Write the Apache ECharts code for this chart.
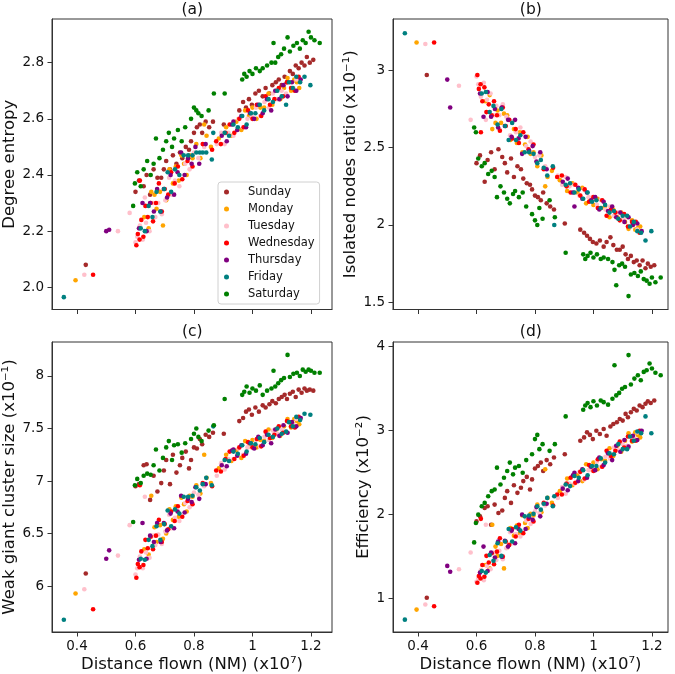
<!DOCTYPE html>
<html>
<head>
<meta charset="utf-8">
<script src="https://cdn.jsdelivr.net/npm/echarts@6/dist/echarts.min.js"></script>
<style>
  html, body { margin: 0; padding: 0; background: #fff; }
  #chart { width: 675px; height: 674px; }
</style>
</head>
<body>
<div id="chart"></div>
<script>
// weekdays and their marker colours
const days = ['Sunday', 'Monday', 'Tuesday', 'Wednesday', 'Thursday', 'Friday', 'Saturday'];
const dayColors = ['#a52a2a', '#ffa500', '#ffc0cb', '#ff0000', '#800080', '#008080', '#008000'];

// one row per day: [distance (x10^7 NM), degree entropy, isolated ratio (x10^-1), weak giant cluster (x10^-1), efficiency (x10^-2)]
const sunday = [
    [0.430, 2.08, 2.97, 6.12, 1.01],
    [0.600, 2.34, 2.40, 6.95, 1.92], [0.612, 2.38, 2.45, 6.97, 1.98], [0.628, 2.36, 2.28, 7.15, 2.08],
    [0.638, 2.40, 2.42, 7.16, 2.10], [0.650, 2.33, 2.47, 6.82, 1.88], [0.662, 2.42, 2.36, 7.05, 2.12],
    [0.675, 2.39, 2.49, 6.90, 2.02], [0.688, 2.39, 2.44, 6.98, 2.05], [0.697, 2.42, 2.40, 7.10, 2.20],
    [0.705, 2.45, 2.34, 7.20, 2.28], [0.718, 2.42, 2.43, 6.97, 2.14], [0.728, 2.47, 2.31, 7.25, 2.35],
    [0.740, 2.44, 2.38, 7.08, 2.26], [0.752, 2.48, 2.36, 7.15, 2.32], [0.760, 2.46, 2.30, 7.22, 2.40],
    [0.772, 2.50, 2.27, 7.28, 2.45], [0.783, 2.49, 2.26, 7.12, 2.30], [0.790, 2.52, 2.23, 7.20, 2.42],
    [0.800, 2.55, 2.19, 7.32, 2.55], [0.810, 2.57, 2.18, 7.31, 2.58], [0.820, 2.58, 2.16, 7.40, 2.62],
    [0.828, 2.55, 2.21, 7.35, 2.52], [0.840, 2.59, 2.14, 7.44, 2.65], [0.852, 2.57, 2.12, 7.42, 2.60],
    [0.865, 2.59, 2.10, 7.46, 2.68], [0.902, 2.58, 2.01, 7.45, 2.72],
    [0.955, 2.63, 1.97, 7.57, 2.88], [0.968, 2.66, 1.95, 7.60, 2.92], [0.978, 2.64, 1.93, 7.66, 2.98],
    [0.988, 2.67, 1.91, 7.68, 2.95], [0.998, 2.65, 1.89, 7.63, 2.90], [1.010, 2.69, 1.88, 7.70, 3.00],
    [1.022, 2.70, 1.90, 7.66, 2.96], [1.035, 2.68, 1.86, 7.72, 3.02], [1.045, 2.71, 1.89, 7.70, 2.94],
    [1.058, 2.69, 1.92, 7.73, 3.05], [1.068, 2.72, 1.87, 7.76, 3.08], [1.080, 2.73, 1.84, 7.74, 3.10],
    [1.090, 2.74, 1.84, 7.78, 3.14], [1.100, 2.72, 1.86, 7.80, 3.12], [1.110, 2.75, 1.81, 7.82, 3.20],
    [1.118, 2.73, 1.78, 7.78, 3.16], [1.128, 2.77, 1.80, 7.83, 3.22], [1.138, 2.76, 1.76, 7.85, 3.26],
    [1.148, 2.79, 1.77, 7.80, 3.24], [1.158, 2.78, 1.74, 7.87, 3.30], [1.168, 2.80, 1.77, 7.84, 3.28],
    [1.178, 2.79, 1.72, 7.88, 3.32], [1.186, 2.82, 1.75, 7.86, 3.35], [1.196, 2.80, 1.73, 7.87, 3.33],
    [1.208, 2.81, 1.74, 7.86, 3.36]
];
const monday = [
    [0.395, 2.025, 3.18, 5.93, 0.87],
    [0.630, 2.25, 2.80, 6.35, 1.40], [0.645, 2.21, 2.84, 6.30, 1.36], [0.654, 2.34, 2.62, 6.86, 1.88],
    [0.665, 2.33, 2.66, 6.56, 1.62], [0.672, 2.28, 2.74, 6.42, 1.51], [0.684, 2.34, 2.66, 6.58, 1.65],
    [0.694, 2.22, 2.72, 6.45, 1.36], [0.705, 2.31, 2.71, 6.50, 1.61], [0.716, 2.42, 2.55, 6.73, 1.84],
    [0.728, 2.37, 2.62, 6.63, 1.75], [0.738, 2.43, 2.53, 6.76, 1.87], [0.748, 2.38, 2.60, 6.66, 1.78],
    [0.757, 2.47, 2.47, 6.84, 1.99], [0.766, 2.44, 2.52, 6.78, 1.90], [0.775, 2.40, 2.57, 6.71, 1.84],
    [0.785, 2.47, 2.46, 6.86, 2.01], [0.795, 2.46, 2.47, 6.85, 1.99], [0.808, 2.51, 2.38, 6.96, 2.12],
    [0.822, 2.46, 2.45, 6.88, 2.03], [0.835, 2.58, 2.25, 7.25, 2.54], [0.843, 2.54, 2.31, 7.03, 2.20],
    [0.858, 2.50, 2.35, 6.98, 2.14],
    [0.885, 2.53, 2.29, 7.12, 2.28], [0.910, 2.57, 2.22, 7.25, 2.43], [0.928, 2.54, 2.27, 7.19, 2.35],
    [0.945, 2.59, 2.21, 7.29, 2.47], [0.962, 2.56, 2.24, 7.22, 2.40], [0.975, 2.63, 2.14, 7.38, 2.60],
    [0.988, 2.61, 2.17, 7.33, 2.54], [1.000, 2.64, 2.13, 7.39, 2.62], [1.014, 2.60, 2.17, 7.32, 2.54],
    [1.027, 2.64, 2.11, 7.39, 2.66], [1.040, 2.64, 2.12, 7.38, 2.64], [1.055, 2.69, 2.05, 7.49, 2.79],
    [1.068, 2.65, 2.10, 7.41, 2.70], [1.082, 2.70, 2.05, 7.49, 2.82], [1.095, 2.67, 2.08, 7.43, 2.75],
    [1.108, 2.71, 2.02, 7.52, 2.88], [1.120, 2.745, 1.975, 7.59, 2.97], [1.132, 2.70, 2.03, 7.51, 2.87],
    [1.143, 2.74, 1.97, 7.59, 2.98], [1.152, 2.73, 1.98, 7.57, 2.95], [1.160, 2.71, 1.99, 7.54, 2.92]
];
const tuesday = [
    [0.425, 2.045, 3.17, 5.97, 0.93], [0.540, 2.20, 2.90, 6.29, 1.35], [0.580, 2.265, 2.68, 6.58, 1.55],
    [0.600, 2.16, 2.96, 6.11, 1.20], [0.606, 2.18, 2.91, 6.17, 1.24], [0.615, 2.22, 2.83, 6.28, 1.34],
    [0.625, 2.17, 2.92, 6.17, 1.22], [0.632, 2.32, 2.68, 6.85, 1.88], [0.636, 2.23, 2.81, 6.32, 1.39],
    [0.648, 2.20, 2.85, 6.27, 1.35], [0.660, 2.30, 2.71, 6.48, 1.55], [0.668, 2.25, 2.77, 6.39, 1.46],
    [0.678, 2.30, 2.71, 6.49, 1.57], [0.690, 2.26, 2.78, 6.40, 1.47], [0.702, 2.31, 2.70, 6.52, 1.60],
    [0.715, 2.39, 2.58, 6.68, 1.79], [0.724, 2.33, 2.67, 6.55, 1.66], [0.735, 2.38, 2.60, 6.65, 1.77],
    [0.750, 2.36, 2.63, 6.62, 1.74], [0.770, 2.44, 2.51, 6.79, 1.93], [0.785, 2.42, 2.54, 6.75, 1.89],
    [0.800, 2.48, 2.44, 6.89, 2.04], [0.815, 2.46, 2.45, 6.87, 2.02], [0.835, 2.50, 2.38, 6.95, 2.11],
    [0.878, 2.51, 2.32, 7.05, 2.20], [0.893, 2.55, 2.26, 7.17, 2.33], [0.905, 2.51, 2.31, 7.11, 2.25],
    [0.918, 2.55, 2.25, 7.21, 2.37], [0.935, 2.54, 2.26, 7.21, 2.37], [0.952, 2.60, 2.19, 7.31, 2.51],
    [0.968, 2.57, 2.23, 7.25, 2.42], [0.983, 2.60, 2.18, 7.32, 2.53], [0.997, 2.61, 2.18, 7.33, 2.54],
    [1.012, 2.64, 2.13, 7.39, 2.63], [1.026, 2.61, 2.16, 7.33, 2.57], [1.041, 2.66, 2.10, 7.42, 2.69],
    [1.056, 2.64, 2.12, 7.39, 2.67], [1.070, 2.69, 2.06, 7.48, 2.80], [1.085, 2.67, 2.08, 7.45, 2.77],
    [1.100, 2.70, 2.04, 7.49, 2.84], [1.115, 2.69, 2.05, 7.47, 2.82], [1.128, 2.73, 1.99, 7.56, 2.93],
    [1.140, 2.71, 2.01, 7.54, 2.91], [1.150, 2.74, 1.97, 7.59, 2.98]
];
const wednesday = [
    [0.455, 2.045, 3.18, 5.78, 0.91],
    [0.603, 2.15, 2.97, 6.08, 1.19], [0.608, 2.19, 2.88, 6.21, 1.27], [0.614, 2.17, 2.91, 6.18, 1.24],
    [0.615, 2.38, 2.60, 6.96, 1.95], [0.620, 2.24, 2.80, 6.33, 1.40], [0.627, 2.18, 2.89, 6.20, 1.26],
    [0.634, 2.29, 2.73, 6.44, 1.51], [0.642, 2.25, 2.78, 6.36, 1.43], [0.652, 2.30, 2.71, 6.47, 1.54],
    [0.660, 2.235, 2.80, 6.35, 1.41], [0.670, 2.30, 2.71, 6.48, 1.56], [0.680, 2.37, 2.61, 6.63, 1.72],
    [0.690, 2.27, 2.76, 6.42, 1.50], [0.700, 2.35, 2.64, 6.59, 1.68], [0.712, 2.33, 2.68, 6.54, 1.64],
    [0.722, 2.41, 2.56, 6.71, 1.83], [0.734, 2.37, 2.62, 6.62, 1.74], [0.745, 2.43, 2.53, 6.76, 1.88],
    [0.760, 2.385, 2.60, 6.66, 1.78], [0.778, 2.45, 2.49, 6.81, 1.95], [0.795, 2.43, 2.52, 6.78, 1.92],
    [0.830, 2.51, 2.36, 6.98, 2.14], [0.862, 2.49, 2.37, 6.95, 2.11],
    [0.876, 2.52, 2.31, 7.10, 2.24], [0.892, 2.51, 2.32, 7.09, 2.24], [0.908, 2.55, 2.25, 7.21, 2.37],
    [0.922, 2.58, 2.21, 7.28, 2.44], [0.938, 2.55, 2.26, 7.21, 2.38], [0.955, 2.60, 2.19, 7.32, 2.51],
    [0.970, 2.57, 2.23, 7.24, 2.43], [0.985, 2.63, 2.15, 7.37, 2.59], [1.000, 2.60, 2.18, 7.32, 2.52],
    [1.015, 2.65, 2.11, 7.40, 2.66], [1.030, 2.61, 2.16, 7.33, 2.57], [1.045, 2.68, 2.06, 7.47, 2.76],
    [1.060, 2.65, 2.10, 7.41, 2.70], [1.075, 2.67, 2.08, 7.44, 2.76], [1.090, 2.71, 2.03, 7.52, 2.87],
    [1.105, 2.68, 2.07, 7.46, 2.80], [1.118, 2.73, 1.99, 7.57, 2.93], [1.132, 2.71, 2.02, 7.52, 2.88],
    [1.145, 2.70, 2.02, 7.51, 2.88], [1.158, 2.75, 1.95, 7.61, 3.00]
];
const thursday = [
    [0.500, 2.20, 2.94, 6.26, 1.39], [0.510, 2.205, 2.76, 6.34, 1.32],
    [0.612, 2.21, 2.85, 6.25, 1.31], [0.624, 2.30, 2.70, 6.60, 1.62], [0.638, 2.20, 2.86, 6.26, 1.33],
    [0.650, 2.30, 2.70, 6.48, 1.55], [0.663, 2.27, 2.75, 6.42, 1.49], [0.674, 2.35, 2.63, 6.60, 1.68],
    [0.686, 2.27, 2.76, 6.42, 1.50], [0.697, 2.35, 2.64, 6.60, 1.69], [0.708, 2.32, 2.68, 6.53, 1.62],
    [0.720, 2.40, 2.57, 6.69, 1.81], [0.732, 2.33, 2.68, 6.55, 1.66], [0.744, 2.41, 2.56, 6.71, 1.83],
    [0.756, 2.48, 2.46, 6.86, 2.00], [0.768, 2.40, 2.57, 6.70, 1.83], [0.780, 2.46, 2.48, 6.83, 1.97],
    [0.792, 2.44, 2.51, 6.80, 1.94], [0.805, 2.50, 2.41, 6.94, 2.09], [0.818, 2.44, 2.47, 6.83, 1.98],
    [0.840, 2.51, 2.36, 6.97, 2.13],
    [0.895, 2.54, 2.28, 7.15, 2.31], [0.912, 2.52, 2.30, 7.14, 2.29], [0.930, 2.58, 2.21, 7.29, 2.47],
    [0.935, 2.59, 2.12, 7.30, 2.50], [0.948, 2.56, 2.24, 7.24, 2.40], [0.962, 2.61, 2.17, 7.34, 2.54],
    [0.978, 2.57, 2.21, 7.26, 2.44], [0.992, 2.62, 2.16, 7.36, 2.57], [1.006, 2.60, 2.18, 7.31, 2.53],
    [1.020, 2.65, 2.10, 7.42, 2.68], [1.035, 2.62, 2.15, 7.34, 2.59], [1.050, 2.67, 2.09, 7.44, 2.73],
    [1.064, 2.63, 2.12, 7.36, 2.65], [1.078, 2.70, 2.05, 7.49, 2.82], [1.092, 2.67, 2.08, 7.43, 2.75],
    [1.106, 2.72, 2.02, 7.53, 2.89], [1.120, 2.68, 2.05, 7.46, 2.81], [1.135, 2.73, 2.00, 7.56, 2.94],
    [1.150, 2.70, 2.01, 7.52, 2.89], [1.165, 2.74, 1.96, 7.60, 3.00]
];
const friday = [
    [0.355, 1.965, 3.24, 5.68, 0.75],
    [0.618, 2.21, 2.85, 6.26, 1.33], [0.632, 2.20, 2.86, 6.25, 1.31], [0.645, 2.29, 2.73, 6.44, 1.52],
    [0.658, 2.25, 2.77, 6.38, 1.45], [0.672, 2.34, 2.65, 6.57, 1.66], [0.685, 2.27, 2.75, 6.44, 1.51],
    [0.698, 2.35, 2.64, 6.59, 1.68], [0.710, 2.41, 2.55, 6.72, 1.83], [0.722, 2.34, 2.66, 6.57, 1.68],
    [0.735, 2.42, 2.55, 6.73, 1.85], [0.750, 2.40, 2.58, 6.69, 1.81], [0.765, 2.47, 2.47, 6.85, 1.98],
    [0.780, 2.47, 2.47, 6.85, 1.99], [0.795, 2.47, 2.46, 6.86, 2.01], [0.808, 2.48, 2.40, 6.94, 2.10],
    [0.820, 2.48, 2.42, 6.91, 2.06], [0.830, 2.48, 2.37, 6.97, 2.13], [0.842, 2.48, 2.32, 7.03, 2.20],
    [0.861, 2.455, 2.38, 6.96, 2.10], [0.866, 2.55, 2.00, 7.52, 2.22],
    [0.905, 2.55, 2.26, 7.20, 2.36], [0.920, 2.54, 2.27, 7.19, 2.34], [0.935, 2.58, 2.21, 7.28, 2.46],
    [0.950, 2.57, 2.23, 7.26, 2.44], [0.965, 2.61, 2.17, 7.34, 2.53], [0.980, 2.58, 2.21, 7.28, 2.47],
    [0.995, 2.62, 2.15, 7.36, 2.58], [1.010, 2.62, 2.16, 7.35, 2.58], [1.025, 2.65, 2.11, 7.41, 2.67],
    [1.040, 2.63, 2.13, 7.37, 2.62], [1.055, 2.67, 2.08, 7.44, 2.73], [1.070, 2.66, 2.09, 7.42, 2.72],
    [1.085, 2.70, 2.04, 7.50, 2.84], [1.100, 2.68, 2.06, 7.45, 2.78], [1.115, 2.65, 2.06, 7.47, 2.78],
    [1.125, 2.73, 1.99, 7.56, 2.93], [1.138, 2.71, 2.02, 7.52, 2.88], [1.150, 2.75, 1.96, 7.61, 2.99],
    [1.163, 2.73, 1.95, 7.58, 2.97], [1.178, 2.75, 1.90, 7.64, 3.17], [1.198, 2.72, 1.96, 7.63, 2.97]
];
const saturday = [
    [0.592, 2.29, 2.63, 6.61, 1.67],
    [0.598, 2.37, 2.60, 6.96, 1.90], [0.606, 2.41, 2.43, 7.02, 2.00], [0.618, 2.36, 2.38, 6.98, 2.10],
    [0.628, 2.42, 2.40, 7.05, 2.14], [0.640, 2.45, 2.33, 7.07, 2.22], [0.652, 2.40, 2.35, 7.06, 2.28],
    [0.662, 2.44, 2.31, 7.15, 2.30], [0.670, 2.53, 2.18, 7.30, 2.56], [0.682, 2.46, 2.25, 7.10, 2.36],
    [0.694, 2.49, 2.21, 7.22, 2.44], [0.705, 2.52, 2.17, 7.32, 2.52], [0.714, 2.55, 2.14, 7.38, 2.62],
    [0.725, 2.50, 2.20, 7.20, 2.48], [0.732, 2.53, 2.22, 7.34, 2.56], [0.745, 2.56, 2.18, 7.35, 2.58],
    [0.758, 2.52, 2.21, 7.27, 2.50], [0.770, 2.57, 2.12, 7.36, 2.65], [0.790, 2.60, 2.07, 7.40, 2.72],
    [0.800, 2.64, 2.03, 7.45, 2.90], [0.808, 2.63, 2.00, 7.50, 2.95], [0.815, 2.62, 2.11, 7.42, 2.78],
    [0.826, 2.61, 2.04, 7.38, 2.84], [0.850, 2.63, 2.16, 7.48, 2.76], [0.868, 2.69, 2.05, 7.53, 2.84],
    [0.905, 2.69, 1.82, 7.78, 3.17], [0.965, 2.74, 1.81, 7.82, 3.25], [0.972, 2.76, 1.78, 7.85, 3.30],
    [0.980, 2.75, 1.80, 7.90, 3.33], [0.990, 2.77, 1.82, 7.84, 3.28], [1.000, 2.76, 1.79, 7.88, 3.35],
    [1.012, 2.78, 1.81, 7.86, 3.30], [1.025, 2.77, 1.78, 7.91, 3.36], [1.035, 2.78, 1.79, 7.82, 3.34],
    [1.050, 2.79, 1.78, 7.86, 3.31], [1.065, 2.80, 1.76, 7.88, 3.38], [1.072, 2.87, 1.71, 8.05, 3.78],
    [1.078, 2.80, 1.61, 7.90, 3.42], [1.088, 2.82, 1.74, 7.93, 3.45], [1.098, 2.83, 1.75, 7.96, 3.50],
    [1.108, 2.85, 1.73, 7.98, 3.52], [1.120, 2.89, 1.54, 8.20, 3.90], [1.128, 2.84, 1.68, 7.99, 3.55],
    [1.140, 2.86, 1.69, 8.02, 3.62], [1.152, 2.87, 1.67, 8.03, 3.66], [1.162, 2.85, 1.70, 8.00, 3.60],
    [1.172, 2.88, 1.65, 8.06, 3.70], [1.182, 2.87, 1.64, 8.04, 3.72], [1.192, 2.91, 1.62, 8.06, 3.80],
    [1.200, 2.89, 1.66, 8.05, 3.74], [1.212, 2.88, 1.63, 8.03, 3.69], [1.230, 2.87, 1.66, 8.03, 3.66]
];

// tick labels
const xTicks = [0.4, 0.6, 0.8, 1.0, 1.2];
const entropyTicks = [2.0, 2.2, 2.4, 2.6, 2.8];
const isolatedTicks = [1.5, 2, 2.5, 3];
const weakTicks = [6, 6.5, 7, 7.5, 8];
const effTicks = [1, 2, 3, 4];

const panelTitles = ['(a)', '(b)', '(c)', '(d)'];
const yNames = ['Degree entropy', 'Isolated nodes ratio (x10⁻¹)', 'Weak giant cluster size (x10⁻¹)', 'Efficiency (x10⁻²)'];
const xName = 'Distance flown (NM) (x10⁷)';

const dayRows = [sunday, monday, tuesday, wednesday, thursday, friday, saturday];
const FONT = 'DejaVu Sans';

const chart = echarts.init(document.getElementById('chart'), null, { renderer: 'canvas' });

// panel boxes in pixels
const grids = [
    { left: 52, top: 19, width: 280, height: 290.5 },
    { left: 393, top: 19, width: 275, height: 290.5 },
    { left: 52, top: 342, width: 280, height: 290.5 },
    { left: 393, top: 342, width: 275, height: 290.5 }
];
const xRanges = [[0.3145, 1.272], [0.3144, 1.255], [0.3145, 1.272], [0.3144, 1.255]];
const yRanges = [[1.921, 2.9555], [1.4535, 3.332], [5.563, 8.323], [0.603, 4.056]];
const yTickSets = [entropyTicks, isolatedTicks, weakTicks, effTicks];
const yNameGaps = [31, 30, 29, 18.5];

const axisLine = { show: true, onZero: false, lineStyle: { color: '#333', width: 1 } };

const xAxes = grids.map((g, i) => ({
    type: 'value',
    gridIndex: i,
    min: xRanges[i][0],
    max: xRanges[i][1],
    axisLine: axisLine,
    axisTick: { show: true, customValues: xTicks, length: 4.5, lineStyle: { color: '#333' } },
    axisLabel: {
        show: i >= 2,
        customValues: xTicks,
        fontSize: 13.5,
        fontFamily: FONT,
        color: '#111',
        margin: 7
    },
    splitLine: { show: false },
    name: i >= 2 ? xName : '',
    nameLocation: 'middle',
    nameGap: 24,
    nameTextStyle: { fontSize: 16.5, fontFamily: FONT, color: '#111' }
}));

const yAxes = grids.map((g, i) => ({
    type: 'value',
    gridIndex: i,
    min: yRanges[i][0],
    max: yRanges[i][1],
    axisLine: axisLine,
    axisTick: { show: true, customValues: yTickSets[i], length: 4.5, lineStyle: { color: '#333' } },
    axisLabel: {
        customValues: yTickSets[i],
        fontSize: 13.5,
        fontFamily: FONT,
        color: '#111',
        margin: 8,
        formatter: i === 0 ? (v) => v.toFixed(1) : (v) => String(+v.toFixed(2))
    },
    splitLine: { show: false },
    name: yNames[i],
    nameLocation: 'middle',
    nameGap: yNameGaps[i],
    nameTextStyle: { fontSize: 16.5, fontFamily: FONT, color: '#111' }
}));

const series = [];
for (let p = 0; p < 4; p++) {
    dayRows.forEach((rows, d) => {
        series.push({
            name: days[d],
            type: 'scatter',
            xAxisIndex: p,
            yAxisIndex: p,
            symbol: 'circle',
            symbolSize: 4.6,
            itemStyle: { color: dayColors[d], opacity: 1 },
            emphasis: { disabled: true },
            data: rows.map(r => [r[0], r[p + 1]])
        });
    });
}

const titleCenters = [[192.3, 1.8], [530.8, 1.8], [192.3, 323.8], [530.8, 323.8]];

const option = {
    animation: false,
    backgroundColor: '#fff',
    textStyle: { fontFamily: FONT },
    title: panelTitles.map((t, i) => ({
        text: t,
        left: titleCenters[i][0],
        top: titleCenters[i][1],
        textAlign: 'center',
        padding: 0,
        textStyle: { fontSize: 15.5, fontWeight: 'normal', fontFamily: FONT, color: '#111' }
    })),
    grid: grids.map(g => Object.assign({
        show: true,
        borderColor: '#333',
        borderWidth: 1,
        backgroundColor: 'transparent',
        containLabel: false
    }, g)),
    legend: {
        data: days,
        orient: 'vertical',
        left: 218,
        top: 182,
        padding: [3, 5, 3, 6],
        itemGap: 3,
        itemWidth: 19,
        itemHeight: 5,
        icon: 'circle',
        selectedMode: false,
        backgroundColor: 'rgba(255,255,255,0.85)',
        borderColor: '#d0d0d0',
        borderWidth: 1,
        borderRadius: 3,
        textStyle: { fontSize: 11.5, lineHeight: 14, fontFamily: FONT, color: '#111', padding: [0, 0, 0, 7] }
    },
    xAxis: xAxes,
    yAxis: yAxes,
    series: series
};

chart.setOption(option);

window.addEventListener('resize', () => {
    chart.resize();
});
</script>
</body>
</html>
